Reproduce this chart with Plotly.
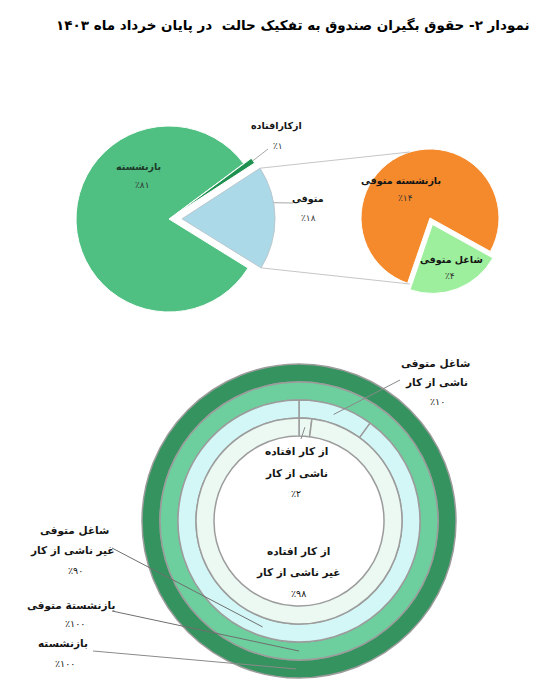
import math
import plotly.graph_objects as go

title_text = "نمودار ۲- حقوق بگیران صندوق به تفکیک حالت  در پایان خرداد ماه ۱۴۰۳"

# top: main pie + breakdown of the deceased slice
main_labels = ["بازنشسته", "ازکارافتاده", "متوفی"]
main_values = [81, 1, 18]

deceased_labels = ["بازنشسته متوفی", "شاغل متوفی"]
deceased_values = [14, 4]

# bottom: concentric rings
ring_names = ["بازنشسته", "بازنشستة متوفی", "شاغل متوفی", "از کار افتاده"]
cause_labels = ["ناشی از کار", "غیر ناشی از کار"]
retired_values = [100]
retired_deceased_values = [100]
employed_deceased_values = [10, 90]
disabled_values = [2, 98]

W, H = 537, 700
FONT = "DejaVu Sans"


def fa(n):
    return str(n).translate(str.maketrans("0123456789", "۰۱۲۳۴۵۶۷۸۹"))


def pct(n):
    return "٪" + fa(n)


def dom(cx, cy, r, pull=0):
    half = r * (1 + pull)
    return dict(x=[(cx - half) / W, (cx + half) / W],
                y=[1 - (cy + half) / H, 1 - (cy - half) / H])


def pt(c, r, ang):
    a = math.radians(ang)
    return (c[0] + r * math.sin(a), c[1] - r * math.cos(a))


def slice_angles(values, rotation):
    total = sum(values)
    out = []
    a = rotation
    for v in values:
        b = a + v / total * 360
        out.append((a, b))
        a = b
    return out


shapes = []
annotations = []


def seg(p, q, color="#9a9a9a", width=1):
    shapes.append(dict(type="line", xref="paper", yref="paper",
                       x0=p[0] / W, y0=1 - p[1] / H, x1=q[0] / W, y1=1 - q[1] / H,
                       line=dict(color=color, width=width)))


def label(x, y, text, size=10.5, bold=True, color="#151515", anchor="center"):
    annotations.append(dict(x=x / W, y=1 - y / H, xref="paper", yref="paper",
                            text="<b>%s</b>" % text if bold else text,
                            showarrow=False, xanchor=anchor, yanchor="middle",
                            font=dict(family=FONT, size=size, color=color)))


fig = go.Figure()

# ---- main pie
MAIN_C = (161, 211)
MAIN_R = 93
main_rot = 121.8
main_pull = [0, 0.1, 0.14]
fig.add_trace(go.Pie(
    labels=main_labels, values=main_values, sort=False, direction="clockwise",
    rotation=main_rot, pull=main_pull, domain=dom(*MAIN_C, MAIN_R, max(main_pull)),
    marker=dict(colors=["#4fbf82", "#1f9150", "#acd9e8"],
                line=dict(color=["#ffffff", "#ffffff", "#b8c8cf"], width=1)),
    textinfo="none", hoverinfo="label+percent", showlegend=False,
))

# ---- deceased breakdown pie
SEC_C = (422, 210)
SEC_R = 69
sec_pull = [0, 0.1]
fig.add_trace(go.Pie(
    labels=deceased_labels, values=deceased_values, sort=False, direction="clockwise",
    rotation=199, pull=sec_pull, domain=dom(*SEC_C, SEC_R, max(sec_pull)),
    marker=dict(colors=["#f58a2c", "#9def9d"], line=dict(color="#ffffff", width=1)),
    textinfo="none", hoverinfo="label+value", showlegend=False,
))

# ---- rings
RING_C = (291, 513)
edges = [157, 139, 121, 103, 85]
ring_values = [retired_values, retired_deceased_values, employed_deceased_values, disabled_values]
ring_colors = [["#35935f"], ["#6ccf9d"], ["#d3f6f6", "#d3f6f6"], ["#ebf9f2", "#ebf9f2"]]
for i, (name, vals) in enumerate(zip(ring_names, ring_values)):
    outer, inner = edges[i], edges[i + 1]
    fig.add_trace(go.Pie(
        labels=[name] if len(vals) == 1 else [name + " " + c for c in cause_labels],
        values=vals, sort=False, direction="clockwise", rotation=0,
        hole=inner / outer, domain=dom(*RING_C, outer),
        marker=dict(colors=ring_colors[i], line=dict(color="#9c9c9c", width=1.5)),
        textinfo="none", hoverinfo="label+value", showlegend=False,
    ))

# ---- connectors between the two top pies
main_ang = slice_angles(main_values, main_rot)
a0, a1 = main_ang[2]
blue_apex = pt(MAIN_C, main_pull[2] * MAIN_R, (a0 + a1) / 2)
seg(pt(blue_apex, MAIN_R, a0), pt(SEC_C, SEC_R, 343), "#c6c6c6")
seg(pt(blue_apex, MAIN_R, a1), pt(SEC_C, SEC_R, 197), "#c6c6c6")

s0, s1 = main_ang[1]
sliver_apex = pt(MAIN_C, main_pull[1] * MAIN_R, (s0 + s1) / 2)
seg((260, 141), pt(sliver_apex, MAIN_R, (s0 + s1) / 2), "#a8a8a8")
seg((285, 195), pt(blue_apex, MAIN_R, 80), "#a8a8a8")

# ---- top labels
label(130, 159, main_labels[0], size=9.5, color="#1d3a2a")
label(134, 177, pct(main_values[0]), size=9, bold=False, color="#333")
label(268, 118, main_labels[1], size=9.5)
label(270, 138, pct(main_values[1]), size=9, bold=False, color="#333")
label(300, 191, main_labels[2], size=9.5)
label(300, 210, pct(main_values[2]), size=9, bold=False, color="#333")

label(393, 173, deceased_labels[0], size=9.5)
label(397, 190, pct(deceased_values[0]), size=9, bold=False, color="#333")
label(443, 252, deceased_labels[1], size=9.5)
label(442, 268, pct(deceased_values[1]), size=9, bold=False, color="#333")

# ---- ring labels
label(427, 355, ring_names[2])
label(428, 374, cause_labels[0])
label(429, 393, pct(employed_deceased_values[0]), size=9.5, bold=False)
seg((392, 372), pt(RING_C, 112, 18), "#8a8a8a")

label(288, 444, ring_names[3])
label(288, 465, cause_labels[0])
label(288, 485, pct(disabled_values[0]), size=9.5, bold=False)
seg((293, 431), pt(RING_C, 94, 3.6), "#8a8a8a")

label(290, 543, ring_names[3])
label(290, 564, cause_labels[1])
label(290, 585, pct(disabled_values[1]), size=9.5, bold=False)

label(66, 522, ring_names[2])
label(64, 542, cause_labels[1])
label(67, 562, pct(employed_deceased_values[1]), size=9.5, bold=False)
seg((104, 540), pt(RING_C, 112, 199), "#6f6f6f")

label(63, 597, ring_names[1])
label(67, 615, pct(retired_deceased_values[0]), size=9.5, bold=False)
seg((104, 603), pt(RING_C, 130, 180), "#6f6f6f")

label(55, 635, ring_names[0])
label(57, 655, pct(retired_values[0]), size=9.5, bold=False)
seg((85, 643), pt(RING_C, 148, 181), "#8a8a8a")

# ---- title
label(285, 17, title_text, size=13.5, color="#000000")

fig.update_layout(
    width=W, height=H,
    margin=dict(l=0, r=0, t=0, b=0),
    paper_bgcolor="white", plot_bgcolor="white",
    showlegend=False,
    shapes=shapes, annotations=annotations,
    font=dict(family=FONT),
)

fig.write_html("out.html")
